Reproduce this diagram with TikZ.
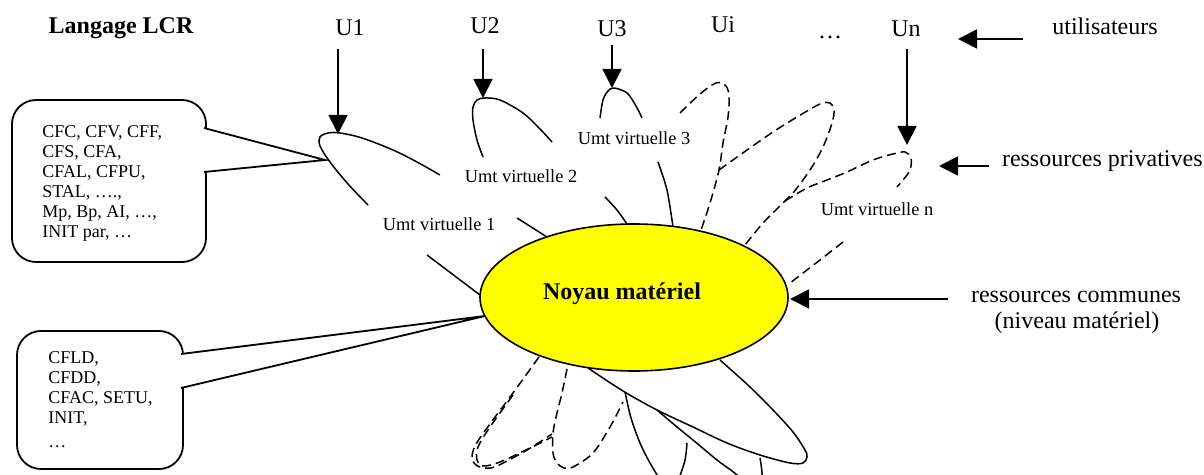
\documentclass[tikz,border=0pt]{standalone}
\usepackage{fontspec}
\setmainfont{Liberation Serif}
\usetikzlibrary{arrows.meta,shapes.geometric}
\definecolor{kernelyellow}{RGB}{255,255,0}
\begin{document}
\begin{tikzpicture}[x=0.5pt,y=-0.5pt,
  big/.style={font=\fontsize{12}{14}\selectfont, inner sep=0pt},
  bigbold/.style={font=\fontsize{12}{14}\selectfont\bfseries, inner sep=0pt},
  umt/.style={font=\fontsize{9.2}{10}\selectfont, inner sep=0pt, anchor=base},
  cmd/.style={font=\fontsize{9}{10}\selectfont, inner sep=0pt, align=left, anchor=north west},
  petal/.style={line width=0.75pt},
  dpetal/.style={line width=0.75pt, dash pattern=on 4.5pt off 2.5pt},
  arr/.style={line width=0.9pt, -{Triangle[length=9.5pt,width=9.5pt]}},
  bubble/.style={draw, line width=0.9pt, rounded corners=12pt, fill=white, inner sep=0pt},
  pointer/.style={line width=0.9pt, fill=white},
]
\useasboundingbox (0,0) rectangle (1204,475);

% ---------- petals (virtual machines) ----------
\begin{scope}
\clip (0,0) rectangle (1204,475);
% Umt virtuelle 1
\draw[petal] plot[smooth, tension=0.55] coordinates {(368,205) (348,184) (330,162) (320,146) (320,137) (328,133) (340,133) (362,138) (393,150) (417,162) (440,175)};
\draw[petal] (427,255) -- (480,295);
\draw[petal] (517,218) -- (547,237);
% Umt virtuelle 2
\draw[petal] plot[smooth, tension=0.55] coordinates {(483,157) (477,140) (473,120) (473,107) (477,100) (485,98) (500,100) (523,113) (540,129) (552,142)};
\draw[petal] plot[smooth] coordinates {(605,197) (617,210) (627,224)};
% Umt virtuelle 3
\draw[petal] plot[smooth, tension=0.55] coordinates {(600,118) (603,100) (608,91) (614,88) (627,93) (636,106) (642,118)};
\draw[petal] plot[smooth] coordinates {(658,162) (667,190) (673,227)};
% Ui and the following users (dashed)
\draw[dpetal] plot[smooth, tension=0.55] coordinates {(680,113) (700,94) (716,83) (725,85) (729,95) (728,117) (723,143) (719,170) (710,203) (701,230)};
\draw[dpetal] plot[smooth, tension=0.55] coordinates {(719,170) (747,150) (773,132) (797,117) (820,104) (830,103) (834,110) (832,123) (823,147) (810,170) (793,193) (783,203) (763,223) (745,245)};
% Umt virtuelle n
\draw[dpetal] plot[smooth, tension=0.55] coordinates {(785,201) (807,188) (827,180) (847,172) (873,160) (893,154) (905,152) (911,158) (910,170) (903,180) (897,187)};
\draw[dpetal] plot[smooth] coordinates {(843,242) (820,260) (790,283)};
% lower petals
\draw[dpetal] plot[smooth, tension=0.55] coordinates {(539,357) (513,393) (487,428) (475,446) (472,458) (476,465) (485,468) (497,466) (527,450) (552,434)};
\draw[dpetal] plot[smooth, tension=0.55] coordinates {(513,395) (490,427) (478,447) (477,460) (483,466) (500,462) (530,448) (552,437)};
\draw[dpetal] plot[smooth, tension=0.55] coordinates {(567,369) (562,393) (557,413) (553,433) (553,453) (557,463) (564,468) (573,467) (593,453) (610,427) (623,402)};
\draw[petal] plot[smooth, tension=0.55] coordinates {(588,368) (623,391) (657,410) (693,427) (727,443) (760,455) (790,463) (803,463) (807,457) (805,450) (793,432) (773,410) (750,387) (720,360)};
\draw[petal] plot[smooth, tension=0.55] coordinates {(625,392) (631,418) (640,443) (650,463) (662,482) (672,490) (679,478) (685,460) (687,443)};
\draw[petal] plot[smooth, tension=0.55] coordinates {(657,410) (677,427) (693,440) (717,460) (737,475) (752,492) (761,488) (762,473) (760,458)};
\end{scope}

% ---------- hardware kernel ----------
\node[ellipse, draw, fill=kernelyellow, line width=0.8pt, minimum width=154pt, minimum height=73.5pt, inner sep=0pt] (noyau) at (634,297.5) {};
\node[bigbold, anchor=base] (noyautxt) at (622,300) {Noyau matériel};

% ---------- labels of the virtual machines ----------
\node[umt] (v1) at (439,231) {Umt virtuelle 1};
\node[umt] (v2) at (521,183) {Umt virtuelle 2};
\node[umt] (v3) at (634,145) {Umt virtuelle 3};
\node[umt] (vn) at (877,216) {Umt virtuelle n};

% ---------- users ----------
\node[bigbold, anchor=base] (lcr) at (121,34) {Langage LCR};
\node[big, anchor=base] (u1) at (350,36) {U1};
\node[big, anchor=base] (u2) at (485,34) {U2};
\node[big, anchor=base] (u3) at (612,37) {U3};
\node[big, anchor=base] (ui) at (723,33) {Ui};
\node[big, anchor=base] (udots) at (830,39) {…};
\node[big, anchor=base] (un) at (906,37) {Un};

\coordinate (a1s) at (338,49);  \coordinate (a1e) at (338,134);
\coordinate (a2s) at (483,49);  \coordinate (a2e) at (483,98);
\coordinate (a3s) at (612,45);  \coordinate (a3e) at (612,88);
\coordinate (ans) at (907,49);  \coordinate (ane) at (907,145);
\draw[arr] (a1s) -- (a1e);
\draw[arr] (a2s) -- (a2e);
\draw[arr] (a3s) -- (a3e);
\draw[arr] (ans) -- (ane);

% ---------- legend on the right ----------
\node[big, anchor=base] (util) at (1105,35) {utilisateurs};
\node[big, anchor=base east] (priv) at (1203,167) {ressources privatives};
\node[big, anchor=base] (comm1) at (1076,303) {ressources communes};
\node[big, anchor=base] (comm2) at (1077,329) {(niveau matériel)};

\coordinate (lus) at (1023,39);  \coordinate (lue) at (958,39);
\coordinate (lps) at (989,166);  \coordinate (lpe) at (939,166);
\coordinate (lcs) at (948,299);  \coordinate (lce) at (790,299);
\draw[arr] (lus) -- (lue);
\draw[arr] (lps) -- (lpe);
\draw[arr] (lcs) -- (lce);

% ---------- command bubbles ----------
\node[bubble, minimum width=97pt, minimum height=81pt] (box1) at (109,181) {};
\coordinate (p1a) at (204,128); \coordinate (p1t) at (325,160); \coordinate (p1b) at (204,172);
\draw[pointer] (p1a) -- (p1t) -- (p1b);
\node[cmd] (box1txt) at (42,125) {CFC, CFV, CFF,\\CFS, CFA,\\CFAL, CFPU,\\STAL, ….,\\Mp, Bp, AI, …,\\INIT par, …};

\node[bubble, minimum width=83pt, minimum height=69pt] (box2) at (100,400) {};
\coordinate (p2a) at (181,354); \coordinate (p2t) at (485,316); \coordinate (p2b) at (181,388);
\draw[pointer] (p2a) -- (p2t) -- (p2b);
\node[cmd] (box2txt) at (48,351) {CFLD,\\CFDD,\\CFAC, SETU,\\INIT,\\[2pt]…};
\end{tikzpicture}
\end{document}
